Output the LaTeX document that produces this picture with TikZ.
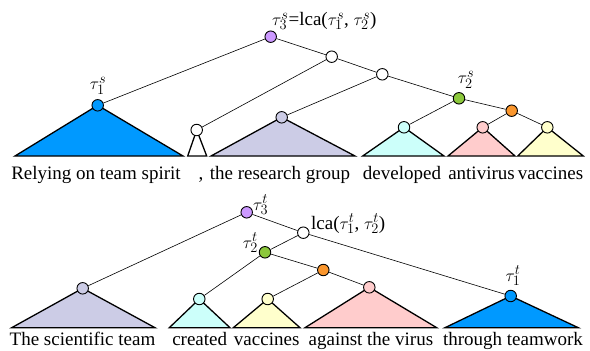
\documentclass[tikz,border=0pt]{standalone}
\usepackage{fontspec}
\setmainfont{Liberation Serif}
\definecolor{cBlue}{RGB}{0,153,255}
\definecolor{cLav}{RGB}{204,204,230}
\definecolor{cCyan}{RGB}{204,255,250}
\definecolor{cPink}{RGB}{255,204,204}
\definecolor{cYel}{RGB}{255,255,204}
\definecolor{cPurp}{RGB}{204,153,255}
\definecolor{cGreen}{RGB}{140,200,60}
\definecolor{cOrange}{RGB}{250,150,45}
\begin{document}
\begin{tikzpicture}[x=1pt,y=-1pt,
  tn/.style={circle,draw,line width=0.9pt,minimum size=11.5pt,inner sep=0pt,fill=white},
  edge/.style={line width=0.6pt},
  subtree/.style={draw,line width=1.3pt,line join=miter},
  word/.style={anchor=base,inner sep=0pt,font=\fontsize{19}{22}\selectfont},
  lab/.style={inner sep=0pt,font=\fontsize{19}{22}\selectfont}]
\useasboundingbox (0,0) rectangle (590,351);

% ---------- upper tree ----------
\coordinate (pa3) at (270.7,36.7);
\coordinate (pa1) at (97.7,105.3);
\coordinate (pw1) at (331.7,56.7);
\coordinate (pw2) at (382.3,74.3);
\coordinate (pws) at (196.7,130);
\coordinate (plv) at (281.7,117.3);
\coordinate (pgr) at (459,98.3);
\coordinate (por) at (511.7,110.7);
\coordinate (pcy) at (404,127.3);
\coordinate (ppk) at (482.7,127.3);
\coordinate (pyl) at (547.3,127.3);

\draw[subtree,fill=cBlue]  (pa1) -- (183,156) -- (15,156) -- cycle;
\draw[subtree,fill=white]  (pws) -- (206.7,156) -- (187.7,156) -- cycle;
\draw[subtree,fill=cLav]   (plv) -- (355,156) -- (211,156) -- cycle;
\draw[subtree,fill=cCyan]  (pcy) -- (444,156) -- (362.7,156) -- cycle;
\draw[subtree,fill=cPink]  (ppk) -- (515,156) -- (448,156) -- cycle;
\draw[subtree,fill=cYel]   (pyl) -- (583.3,156) -- (517.7,156) -- cycle;

\node[tn,fill=cPurp]  (a3) at (pa3) {};
\node[tn,fill=cBlue]  (a1) at (pa1) {};
\node[tn]             (w1) at (pw1) {};
\node[tn]             (w2) at (pw2) {};
\node[tn]             (ws) at (pws) {};
\node[tn,fill=cLav]   (lv) at (plv) {};
\node[tn,fill=cGreen] (gr) at (pgr) {};
\node[tn,fill=cOrange](or) at (por) {};
\node[tn,fill=cCyan]  (cy) at (pcy) {};
\node[tn,fill=cPink]  (pk) at (ppk) {};
\node[tn,fill=cYel]   (yl) at (pyl) {};

\draw[edge] (a3) -- (a1);
\draw[edge] (a3) -- (w1);
\draw[edge] (w1) -- (ws);
\draw[edge] (w1) -- (w2);
\draw[edge] (w2) -- (lv);
\draw[edge] (w2) -- (gr);
\draw[edge] (gr) -- (cy);
\draw[edge] (gr) -- (or);
\draw[edge] (or) -- (pk);
\draw[edge] (or) -- (yl);

\node[lab,anchor=west] (la3) at (272,21) {$\tau_3^s$=lca($\tau_1^s$, $\tau_2^s$)};
\node[lab] (la1) at (98,86) {$\tau_1^s$};
\node[lab] (la2) at (466,80) {$\tau_2^s$};

\node[word] (s1) at (96,179) {Relying on team spirit};
\node[word] (s2) at (201,179) {,};
\node[word] (s3) at (280,179) {the research group};
\node[word] (s4) at (402,179) {developed};
\node[word] (s5) at (481.5,179) {antivirus};
\node[word] (s6) at (550.5,179) {vaccines};

% ---------- lower tree ----------
\coordinate (pb3) at (246.7,212.3);
\coordinate (pbl) at (303.3,232.7);
\coordinate (pb2) at (265,252.3);
\coordinate (pblv) at (82.7,288.3);
\coordinate (pbcy) at (199.3,299);
\coordinate (pbyl) at (267.7,299);
\coordinate (pbor) at (323.3,270);
\coordinate (pbpk) at (369.3,287.3);
\coordinate (pb1) at (510.7,296);

\draw[subtree,fill=cLav]   (pblv) -- (155,327.7) -- (11.7,327.7) -- cycle;
\draw[subtree,fill=cCyan]  (pbcy) -- (230,327.7) -- (169.3,327.7) -- cycle;
\draw[subtree,fill=cYel]   (pbyl) -- (300,327.7) -- (233.3,327.7) -- cycle;
\draw[subtree,fill=cPink]  (pbpk) -- (436.7,327.7) -- (305,327.7) -- cycle;
\draw[subtree,fill=cBlue]  (pb1) -- (578.3,327.7) -- (445,327.7) -- cycle;

\node[tn,fill=cPurp]   (b3) at (pb3) {};
\node[tn]              (bl) at (pbl) {};
\node[tn,fill=cGreen]  (b2) at (pb2) {};
\node[tn,fill=cLav]    (blv) at (pblv) {};
\node[tn,fill=cCyan]   (bcy) at (pbcy) {};
\node[tn,fill=cYel]    (byl) at (pbyl) {};
\node[tn,fill=cOrange] (bor) at (pbor) {};
\node[tn,fill=cPink]   (bpk) at (pbpk) {};
\node[tn,fill=cBlue]   (b1) at (pb1) {};

\draw[edge] (b3) -- (blv);
\draw[edge] (b3) -- (bl);
\draw[edge] (bl) -- (b2);
\draw[edge] (bl) -- (b1);
\draw[edge] (b2) -- (bcy);
\draw[edge] (b2) -- (bor);
\draw[edge] (bor) -- (byl);
\draw[edge] (bor) -- (bpk);

\node[lab,anchor=west] (lb3) at (253,205) {$\tau_3^t$};
\node[lab,anchor=west] (lbl) at (311,224) {lca($\tau_1^t$, $\tau_2^t$)};
\node[lab,anchor=east] (lb2) at (258,243) {$\tau_2^t$};
\node[lab] (lb1) at (513,276) {$\tau_1^t$};

\node[word] (t1) at (82.5,345) {The scientific team};
\node[word] (t2) at (199.7,345) {created};
\node[word] (t3) at (266.7,345) {vaccines};
\node[word] (t4) at (370.9,345) {against the virus};
\node[word] (t5) at (513,345) {through teamwork};
\end{tikzpicture}
\end{document}
